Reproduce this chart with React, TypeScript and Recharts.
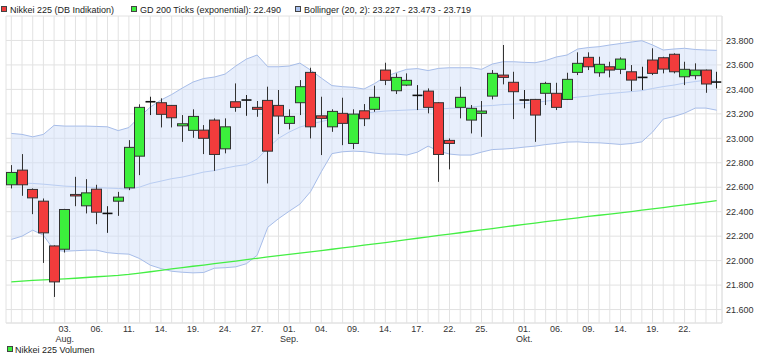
import { ComposedChart, Bar, Area, XAxis, YAxis, CartesianGrid } from 'recharts'

const dates = [
  '27.07.', '28.07.', '29.07.', '30.07.', '31.07.',
  '03.08.', '04.08.', '05.08.', '06.08.', '07.08.', '10.08.', '11.08.', '12.08.', '13.08.', '14.08.',
  '17.08.', '18.08.', '19.08.', '20.08.', '21.08.', '24.08.', '25.08.', '26.08.', '27.08.', '28.08.', '31.08.',
  '01.09.', '02.09.', '03.09.', '04.09.', '07.09.', '08.09.', '09.09.', '10.09.', '11.09.', '14.09.',
  '15.09.', '16.09.', '17.09.', '18.09.', '21.09.', '22.09.', '23.09.', '24.09.', '25.09.', '28.09.',
  '29.09.', '30.09.', '01.10.', '02.10.', '05.10.', '06.10.', '07.10.', '08.10.', '09.10.', '12.10.',
  '13.10.', '14.10.', '15.10.', '16.10.', '19.10.', '20.10.', '21.10.', '22.10.', '23.10.', '26.10.', '27.10.',
]

const opens = [
  22620, 22740, 22582, 22486, 22120, 22093, 22541, 22448, 22584, 22386,
  22486, 22595, 22854, 23299, 23291, 23269, 23102, 23065, 23067, 23149,
  22914, 23299, 23313, 23253, 23310, 23269, 23122, 23291, 23539, 23184,
  23094, 23204, 22958, 23225, 23237, 23558, 23389, 23435, 23351, 23386,
  23291, 22983, 23253, 23149, 23204, 23345, 23517, 23458, 23313, 23318,
  23368, 23368, 23318, 23539, 23662, 23536, 23585, 23564, 23544, 23498,
  23640, 23659, 23687, 23503, 23512, 23558, 23460,
]
const highs = [
  22781, 22871, 22590, 22508, 22125, 22423, 22685, 22666, 22620, 22445,
  22562, 22985, 23278, 23340, 23327, 23272, 23190, 23237, 23108, 23163,
  23163, 23449, 23354, 23305, 23422, 23395, 23237, 23476, 23577, 23340,
  23237, 23332, 23237, 23280, 23430, 23618, 23531, 23531, 23435, 23408,
  23295, 22999, 23422, 23272, 23305, 23558, 23763, 23544, 23395, 23322,
  23462, 23454, 23536, 23703, 23703, 23667, 23626, 23662, 23599, 23585,
  23736, 23667, 23695, 23626, 23613, 23562, 23544,
]
const lows = [
  22590, 22530, 22380, 21981, 21703, 22066, 22445, 22386, 22298, 22227,
  22366, 22576, 22699, 23190, 23089, 23089, 22971, 23004, 22871, 22734,
  22877, 23217, 23184, 23176, 22631, 23034, 23073, 23190, 22999, 22863,
  23053, 22944, 22912, 23100, 23217, 23435, 23362, 23427, 23231, 23204,
  22644, 22746, 23163, 23040, 23012, 23318, 23441, 23157, 23245, 22971,
  23272, 23231, 23313, 23517, 23558, 23503, 23498, 23525, 23386, 23395,
  23517, 23531, 23531, 23435, 23482, 23372, 23408,
]
const closes = [
  22721, 22620, 22513, 22227, 21826, 22418, 22530, 22554, 22396, 22386,
  22519, 22926, 23253, 23299, 23196, 23168, 23119, 23179, 23000, 22868,
  23094, 23253, 23313, 23237, 22895, 23182, 23179, 23422, 23094, 23163,
  23220, 23122, 23198, 23160, 23335, 23474, 23498, 23474, 23351, 23253,
  22868, 22958, 23335, 23245, 23223, 23531, 23498, 23381, 23313, 23190,
  23449, 23253, 23482, 23613, 23585, 23605, 23558, 23648, 23476, 23498,
  23531, 23566, 23544, 23564, 23558, 23444, 23460,
]

// GD 200 (exponential)
const gd200 = [
  21826, 21832, 21838, 21843, 21847, 21851, 21856, 21862, 21868, 21874,
  21880, 21888, 21898, 21909, 21921, 21932, 21943, 21954, 21964, 21975,
  21985, 21996, 22008, 22019, 22030, 22040, 22051, 22061, 22072, 22082,
  22093, 22104, 22115, 22126, 22137, 22148, 22160, 22171, 22183, 22194,
  22206, 22217, 22228, 22240, 22251, 22262, 22274, 22285, 22296, 22307,
  22318, 22329, 22340, 22350, 22361, 22371, 22381, 22391, 22401, 22412,
  22423, 22434, 22445, 22456, 22467, 22478, 22490,
]

// Bollinger (20, 2)
const bbUpper = [
  23040, 23032, 23012, 23032, 23106, 23100, 23100, 23100, 23097, 23094,
  23063, 23088, 23176, 23255, 23313, 23358, 23411, 23460, 23489, 23501,
  23525, 23591, 23648, 23681, 23585, 23585, 23591, 23615, 23558, 23493,
  23431, 23422, 23417, 23403, 23448, 23505, 23536, 23564, 23570, 23554,
  23572, 23577, 23577, 23577, 23564, 23607, 23626, 23626, 23621, 23618,
  23636, 23665, 23681, 23730, 23742, 23749, 23763, 23775, 23787, 23798,
  23763, 23722, 23730, 23736, 23726, 23722, 23719,
]
const bbMiddle = [
  22639, 22634, 22631, 22625, 22617, 22609, 22605, 22601, 22597, 22593,
  22590, 22584, 22601, 22631, 22650, 22670, 22683, 22703, 22724, 22736,
  22756, 22773, 22785, 22830, 22920, 23000, 23051, 23092, 23116, 23137,
  23157, 23178, 23198, 23206, 23214, 23223, 23227, 23231, 23235, 23239,
  23239, 23245, 23247, 23255, 23264, 23268, 23276, 23280, 23284, 23292,
  23304, 23313, 23325, 23337, 23345, 23358, 23366, 23374, 23382, 23390,
  23407, 23423, 23435, 23452, 23464, 23476, 23473,
]
const bbLower = [
  22173, 22200, 22249, 22208, 22085, 22077, 22081, 22085, 22085, 22065,
  22057, 22053, 22017, 21963, 21935, 21913, 21905, 21900, 21903, 21938,
  21942, 21949, 21975, 22044, 22273, 22343, 22404, 22462, 22564, 22726,
  22875, 22890, 22895, 22891, 22879, 22871, 22871, 22863, 22887, 22936,
  22895, 22871, 22863, 22863, 22887, 22908, 22912, 22918, 22928, 22936,
  22949, 22958, 22969, 22971, 22965, 22963, 22957, 22950, 22957, 22971,
  23051, 23157, 23178, 23206, 23247, 23247, 23230,
]

const tickDates = [
  '03.08.', '06.08.', '11.08.', '14.08.', '19.08.', '24.08.', '27.08.', '01.09.', '04.09.', '09.09.',
  '14.09.', '17.09.', '22.09.', '25.09.', '01.10.', '06.10.', '09.10.', '14.10.', '19.10.', '22.10.',
]
const monthLabels: Record<string, string> = { '03.08.': 'Aug.', '01.09.': 'Sep.', '01.10.': 'Okt.' }
const yTicks = [21600, 21800, 22000, 22200, 22400, 22600, 22800, 23000, 23200, 23400, 23600, 23800]

const data = dates.map((d, i) => ({
  date: d,
  open: opens[i],
  high: highs[i],
  low: lows[i],
  close: closes[i],
  gd: gd200[i],
  upper: bbUpper[i],
  middle: bbMiddle[i],
  lower: bbLower[i],
}))

const FONT = "'Liberation Sans', Arial, sans-serif"
const GRID = '#e2e2e2'
const RED = '#f23c3c'
const GREEN = '#3cf03c'

function Candle(props: any) {
  const { x, y, width, height, payload } = props
  const top = Math.min(y, y + height)
  const bottom = Math.max(y, y + height)
  const span = payload.high - payload.low || 1
  const toY = (v: number) => top + ((payload.high - v) / span) * (bottom - top)
  const cx = Math.round(x + width / 2) + 0.5
  const yo = toY(payload.open)
  const yc = toY(payload.close)
  if (payload.open === payload.close) {
    return (
      <g>
        <line x1={cx} x2={cx} y1={top} y2={bottom} stroke="#222" strokeWidth={1} />
        <line x1={cx - 5} x2={cx + 5} y1={yo} y2={yo} stroke="#111" strokeWidth={1.6} />
      </g>
    )
  }
  const up = payload.close > payload.open
  const bt = Math.min(yo, yc)
  const bh = Math.max(Math.abs(yc - yo), 1.5)
  return (
    <g>
      <line x1={cx} x2={cx} y1={top} y2={bottom} stroke="#333" strokeWidth={1} />
      <rect x={cx - 5} y={bt} width={10} height={bh} fill={up ? GREEN : RED} stroke="#333" strokeWidth={1} />
    </g>
  )
}

function DateTick(props: any) {
  const { x, y, payload } = props
  const d = payload.value as string
  if (!tickDates.includes(d)) return <g />
  return (
    <g fontFamily={FONT} fontSize={9} fill="#333">
      <text x={x} y={y + 9} textAnchor="middle">{d.slice(0, 3)}</text>
      {monthLabels[d] && <text x={x} y={y + 19} textAnchor="middle">{monthLabels[d]}</text>}
    </g>
  )
}

function Legend() {
  const items = [
    { x: 1, color: RED, label: 'Nikkei 225 (DB Indikation)' },
    { x: 131, color: GREEN, label: 'GD 200 Ticks (exponential): 22.490' },
    { x: 295, color: '#a9c1ef', label: 'Bollinger (20, 2): 23.227 - 23.473 - 23.719' },
  ]
  return (
    <svg width={771} height={360} style={{ position: 'absolute', left: 0, top: 0, pointerEvents: 'none' }}>
      <g fontFamily={FONT} fontSize={9} fill="#222">
        {items.map((it) => (
          <g key={it.label}>
            <rect x={it.x + 0.5} y={6.5} width={5} height={5} fill={it.color} stroke="#444" />
            <text x={it.x + 9} y={12.5}>{it.label}</text>
          </g>
        ))}
        <rect x={7.5} y={346.5} width={5} height={5} fill={GREEN} stroke="#444" />
        <text x={15} y={352.5}>Nikkei 225 Volumen</text>
      </g>
    </svg>
  )
}

export default function App() {
  return (
    <div style={{ position: 'absolute', left: 0, top: 0, width: 771, height: 360, background: '#fff' }}>
      <ComposedChart width={771} height={360} data={data} margin={{ top: 16, right: 0, bottom: 0, left: 6 }}>
        <CartesianGrid stroke={GRID} />
        <XAxis
          dataKey="date"
          interval={0}
          height={37}
          tickSize={0}
          tickMargin={0}
          tickLine={false}
          axisLine={{ stroke: GRID }}
          tick={<DateTick />}
        />
        <YAxis
          orientation="right"
          width={49}
          domain={[21490, 24000]}
          allowDataOverflow
          ticks={yTicks}
          interval={0}
          tickSize={0}
          tickMargin={4}
          tickLine={false}
          axisLine={{ stroke: GRID }}
          tickFormatter={(v: number) => (v / 1000).toFixed(3)}
          tick={{ fontSize: 9, fill: '#333', fontFamily: FONT }}
        />
        <YAxis yAxisId="l" orientation="left" width={0} domain={[21490, 24000]} tick={false} axisLine={{ stroke: GRID }} />
        <Area
          dataKey={(d: any) => [d.lower, d.upper]}
          stroke="#a7bde9"
          strokeWidth={1}
          fill="#d1dff9"
          fillOpacity={0.5}
          isAnimationActive={false}
          activeDot={false}
        />
        <Area dataKey="middle" stroke="#b9cdf2" strokeWidth={1} fill="none" isAnimationActive={false} activeDot={false} />
        <Area dataKey="gd" stroke="#44ee44" strokeWidth={1.3} fill="none" isAnimationActive={false} activeDot={false} />
        <Bar dataKey={(d: any) => [d.low, d.high]} barSize={10} shape={<Candle />} isAnimationActive={false} />
      </ComposedChart>
      <Legend />
    </div>
  )
}
